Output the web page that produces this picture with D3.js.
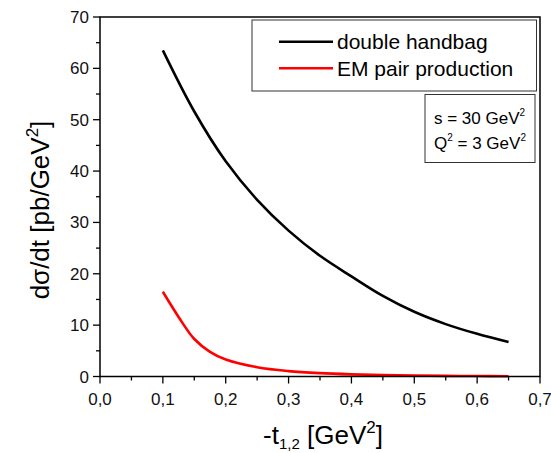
<!DOCTYPE html>
<html>
<head>
<meta charset="utf-8">
<script src="https://cdn.jsdelivr.net/npm/d3@7"></script>
<style>
  body { margin: 0; background: #fff; }
  svg { display: block; font-family: "Liberation Sans", Arial, sans-serif; }
</style>
</head>
<body>
<svg id="chart" width="551" height="453"></svg>
<script>
// -t values (GeV^2) at which the cross sections are sampled
const tHandbag = [0.10, 0.15, 0.20, 0.25, 0.30, 0.35, 0.40, 0.45, 0.50, 0.55, 0.60, 0.65];
const dsigHandbag = [63.5, 51.6, 41.9, 34.4, 28.4, 23.5, 19.5, 15.7, 12.6, 10.2, 8.3, 6.7];

const tEM = [0.10, 0.125, 0.15, 0.175, 0.20, 0.25, 0.30, 0.35, 0.40, 0.45, 0.50, 0.55, 0.60, 0.65];
const dsigEM = [16.5, 11.6, 7.3, 4.8, 3.3, 1.8, 1.05, 0.65, 0.42, 0.28, 0.19, 0.13, 0.09, 0.06];

const xTicks = [0.0, 0.1, 0.2, 0.3, 0.4, 0.5, 0.6, 0.7];
const yTicks = [0, 10, 20, 30, 40, 50, 60, 70];
const seriesNames = ["double handbag", "EM pair production"];
const seriesColors = ["#000000", "#ff0000"];

const svg = d3.select("#chart");
const m = { left: 100, right: 540, top: 17, bottom: 376.5 };

const x = d3.scaleLinear().domain([0, 0.7]).range([m.left, m.right]);
const y = d3.scaleLinear().domain([0, 70]).range([m.bottom, m.top]);

const comma = d3.formatLocale({ decimal: ",", thousands: ".", grouping: [3], currency: ["", ""] });
const fmtX = comma.format(".1f");

// minor ticks
const xMinor = d3.range(0.05, 0.7, 0.1);
const yMinor = d3.range(5, 70, 10);

const axes = svg.append("g").attr("stroke", "#000").attr("stroke-width", 1.3);
xTicks.forEach(v => axes.append("line").attr("x1", x(v)).attr("x2", x(v)).attr("y1", m.bottom).attr("y2", m.bottom + 7));
xMinor.forEach(v => axes.append("line").attr("x1", x(v)).attr("x2", x(v)).attr("y1", m.bottom).attr("y2", m.bottom + 4));
yTicks.forEach(v => axes.append("line").attr("y1", y(v)).attr("y2", y(v)).attr("x1", m.left).attr("x2", m.left - 7));
yMinor.forEach(v => axes.append("line").attr("y1", y(v)).attr("y2", y(v)).attr("x1", m.left).attr("x2", m.left - 4));

// tick labels
svg.append("g").selectAll("text").data(xTicks).join("text")
  .attr("x", d => x(d)).attr("y", 405)
  .attr("text-anchor", "middle").attr("font-size", 17).attr("fill", "#111")
  .text(d => fmtX(d));
svg.append("g").selectAll("text").data(yTicks).join("text")
  .attr("x", 89).attr("y", d => y(d) + 6)
  .attr("text-anchor", "end").attr("font-size", 17).attr("fill", "#111")
  .text(d => d);

// curves
const line = d3.line().x(d => x(d[0])).y(d => y(d[1])).curve(d3.curveCatmullRom.alpha(0.5));
const series = [d3.zip(tHandbag, dsigHandbag), d3.zip(tEM, dsigEM)];
series.forEach((s, i) => {
  svg.append("path").datum(s).attr("d", line)
    .attr("fill", "none").attr("stroke", seriesColors[i]).attr("stroke-width", 2.6);
});

// frame
svg.append("rect").attr("x", m.left).attr("y", m.top)
  .attr("width", m.right - m.left).attr("height", m.bottom - m.top)
  .attr("fill", "none").attr("stroke", "#000").attr("stroke-width", 1.5);

// legend
const lg = svg.append("g");
lg.append("rect").attr("x", 252).attr("y", 20).attr("width", 284.5).attr("height", 71)
  .attr("fill", "#fff").attr("stroke", "#333").attr("stroke-width", 1);
seriesNames.forEach((n, i) => {
  const yy = 41.7 + i * 26.6;
  lg.append("line").attr("x1", 279).attr("x2", 333).attr("y1", yy).attr("y2", yy)
    .attr("stroke", seriesColors[i]).attr("stroke-width", 2.6);
  lg.append("text").attr("x", 337).attr("y", yy + 7.5).attr("font-size", 21).attr("fill", "#000").text(n);
});

// kinematics box
const kb = svg.append("g");
kb.append("rect").attr("x", 425).attr("y", 94.5).attr("width", 110).attr("height", 68)
  .attr("fill", "#fff").attr("stroke", "#333").attr("stroke-width", 1);
const t1 = kb.append("text").attr("x", 434).attr("y", 123.5).attr("font-size", 17);
t1.append("tspan").text("s = 30 GeV");
t1.append("tspan").attr("font-size", 10).attr("dy", -8).text("2");
const t2 = kb.append("text").attr("x", 434).attr("y", 148.5).attr("font-size", 17);
t2.append("tspan").text("Q");
t2.append("tspan").attr("font-size", 10).attr("dy", -8).text("2");
t2.append("tspan").attr("dy", 8).text(" = 3 GeV");
t2.append("tspan").attr("font-size", 10).attr("dy", -8).text("2");

// axis titles
const xt = svg.append("text").attr("x", 323).attr("y", 444).attr("text-anchor", "middle")
  .attr("font-size", 26).attr("fill", "#000");
xt.append("tspan").text("-t");
xt.append("tspan").attr("font-size", 15).attr("dy", 5).text("1,2");
xt.append("tspan").attr("dy", -5).text(" [GeV");
xt.append("tspan").attr("font-size", 17).attr("dy", -11).text("2");
xt.append("tspan").attr("dy", 11).text("]");

const yt = svg.append("text").attr("transform", "translate(49,210) rotate(-90)")
  .attr("text-anchor", "middle").attr("font-size", 26).attr("fill", "#000");
yt.append("tspan").text("dσ/dt [pb/GeV");
yt.append("tspan").attr("font-size", 17).attr("dy", -11).text("2");
yt.append("tspan").attr("dy", 11).text("]");
</script>
</body>
</html>
